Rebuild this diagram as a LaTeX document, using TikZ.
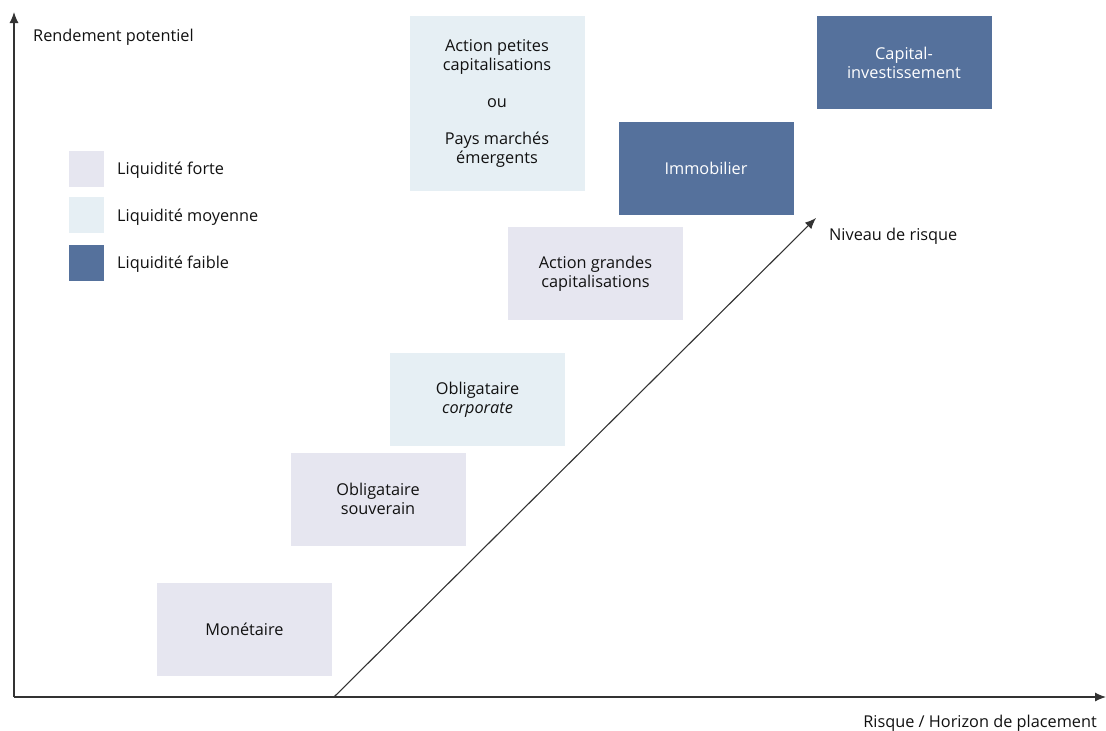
\documentclass[tikz,border=0pt]{standalone}
\usepackage{fontspec}
\setmainfont{Open Sans}
\usetikzlibrary{arrows.meta}
\definecolor{fortec}{HTML}{E6E6F0}
\definecolor{moyc}{HTML}{E6EFF4}
\definecolor{faiblec}{HTML}{55719C}
\definecolor{axisc}{HTML}{333333}
\definecolor{txtc}{HTML}{111111}
\tikzset{
  box/.style={minimum width=175pt, minimum height=93pt, inner sep=0pt, align=center, font=\fontsize{16.3}{19}\selectfont, text=txtc},
  forte/.style={box, fill=fortec},
  moy/.style={box, fill=moyc},
  faible/.style={box, fill=faiblec, text=white},
  lsq/.style={minimum width=35pt, minimum height=36pt, inner sep=0pt},
  lbl/.style={font=\fontsize{16.3}{19}\selectfont, inner sep=0pt, text=txtc, yshift=-2pt},
  axis/.style={draw=axisc, line width=1.1pt, -{Latex[length=11pt,width=9pt]}}
}
\begin{document}
\begin{tikzpicture}[x=1pt,y=-1pt]
\useasboundingbox (0,0) rectangle (1106,731);
% axes
\coordinate (O) at (14,697);
\coordinate (Ytop) at (14,12);
\coordinate (Xend) at (1106,697);
\draw[axis] (O) -- (Ytop);
\draw[axis] (O) -- (Xend);
% boxes
\node[forte] (mon) at (244.5,629.5) {Monétaire};
\node[forte] (osv) at (378,499) {Obligataire\\souverain};
\node[moy] (ocp) at (477.5,399.5) {Obligataire\\\textit{corporate}};
\node[forte] (agc) at (595.5,273.5) {Action grandes\\capitalisations};
\node[moy, minimum height=175pt] (apc) at (497,103.5) {Action petites\\capitalisations\\[18pt]ou\\[18pt]Pays marchés\\émergents};
\node[faible] (imm) at (706,168.5) {Immobilier};
\node[faible] (cap) at (904,62.5) {Capital-\\investissement};
% risk arrow
\coordinate (r0) at (334,697);
\coordinate (r1) at (816,218);
\draw[axis] (r0) -- (r1);
\node[lbl, anchor=west] (niv) at (829,234) {Niveau de risque};
% axis labels
\node[lbl, anchor=west] (rend) at (33,35) {Rendement potentiel};
\node[lbl, anchor=east] (hor) at (1097,721) {Risque / Horizon de placement};
% legend
\node[lsq, fill=fortec] (l1) at (86.5,168.5) {};
\node[lsq, fill=moyc] (l2) at (86.5,215) {};
\node[lsq, fill=faiblec] (l3) at (86.5,262.5) {};
\node[lbl, anchor=west] (t1) at (117,168.5) {Liquidité forte};
\node[lbl, anchor=west] (t2) at (117,215) {Liquidité moyenne};
\node[lbl, anchor=west] (t3) at (117,262.5) {Liquidité faible};
\end{tikzpicture}
\end{document}
